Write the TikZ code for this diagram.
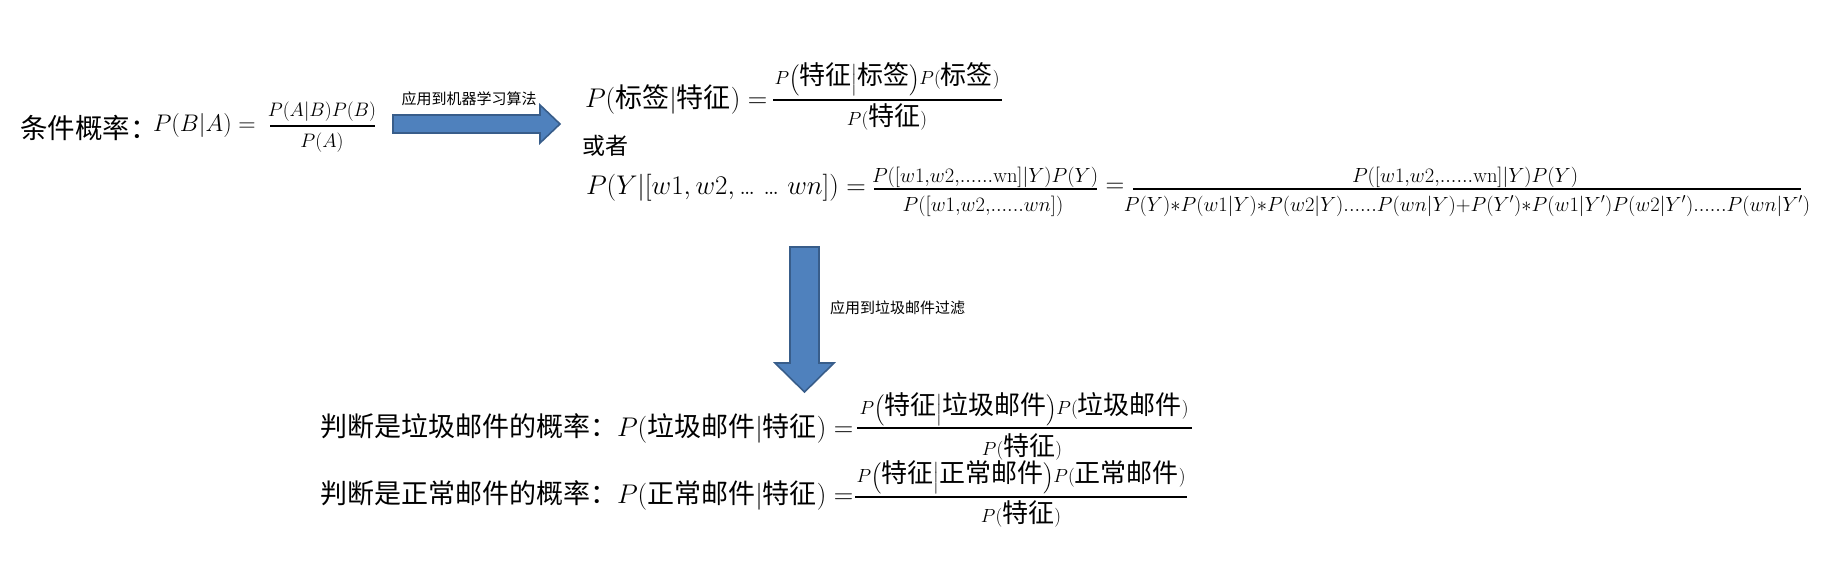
\RequirePackage{fix-cm}
\documentclass[tikz,border=0pt]{standalone}
\usepackage{amsmath}
\usepackage{fontspec}
\newfontfamily\cjk{Noto Sans CJK SC}
\newcommand\fs[1]{\fontsize{#1}{#1}\selectfont}
\newcommand\zh[1]{\text{\cjk #1}}
\newcommand\zhb[1]{\text{\fs{26}\cjk #1}}
\definecolor{arrowfill}{HTML}{4F81BD}
\definecolor{arrowedge}{HTML}{385D8A}
\begin{document}
\begin{tikzpicture}[x=1pt,y=-1pt,
  txt/.style={inner sep=0pt,outer sep=0pt},
  fracbar/.style={line width=1.4pt},
  blockarrow/.style={fill=arrowfill,draw=arrowedge,line width=1.6pt,line join=miter},
  lab/.style={txt,font=\cjk\fs{15}}]
\useasboundingbox (0,0) rectangle (1835,564);

% line 1
\node[txt,anchor=west,font=\cjk\fs{27.5}] (cond) at (20,128) {条件概率：};
\node[txt,anchor=west,font=\fs{24}] (bayes) at (153,126) {$P(B|A) =$};
\node[txt,font=\fs{19.5}] (bayesnum) at (322,112) {$P(A|B)P(B)$};
\node[txt,font=\fs{19.5}] (bayesden) at (322,143) {$P(A)$};
\draw[fracbar] (270,126) -- (375,126);

% right block arrow
\draw[blockarrow] (393,115) -- (540,115) -- (540,105) -- (560,124) -- (540,143) -- (540,133) -- (393,133) -- cycle;
\node[lab] (lab1) at (469,99) {应用到机器学习算法};

% block 2
\node[txt,anchor=west,font=\fs{27}] (post) at (585,99) {$P(\zh{标签}|\zh{特征}) =$};
\node[txt,font=\fs{19}] (postnum) at (887,80) {$P\Bigl(\zhb{特征}\Big|\zhb{标签}\Bigr)P(\zhb{标签})$};
\node[txt,font=\fs{19}] (postden) at (887,117) {$P(\zhb{特征})$};
\draw[fracbar] (773,100) -- (1002,100);

\node[txt,anchor=west,font=\cjk\fs{23}] (or) at (582,146) {或者};

% line 3
\node[txt,anchor=west,font=\fs{27}] (nb) at (586,188) {$P(Y|[w1,w2,\text{… … }wn]) =$};
\node[txt,font=\fs{20.5}] (nbnumA) at (985,177) {$P([w1{,}w2{,}......\mathrm{wn}]|Y)P(Y)$};
\node[txt,font=\fs{20.5}] (nbdenA) at (983,206) {$P([w1{,}w2{,}......wn])$};
\draw[fracbar] (874,189) -- (1097,189);
\node[txt,font=\fs{26}] (eq2) at (1115,188) {$=$};
\node[txt,font=\fs{20.5}] (nbnumB) at (1465,177) {$P([w1{,}w2{,}......\mathrm{wn}]|Y)P(Y)$};
\node[txt,font=\fs{20.5}] (nbdenB) at (1467,206) {$P(Y){*}P(w1|Y){*}P(w2|Y)......P(wn|Y){+}P(Y'){*}P(w1|Y')P(w2|Y')......P(wn|Y')$};
\draw[fracbar] (1133,189) -- (1801,189);

% down block arrow
\draw[blockarrow] (790,247) -- (819,247) -- (819,363) -- (834,363) -- (804.5,392) -- (775,363) -- (790,363) -- cycle;
\node[lab,anchor=west] (lab2) at (830,308) {应用到垃圾邮件过滤};

% bottom lines
\node[txt,anchor=west,font=\fs{27}] (spam) at (320,428) {{\cjk 判断是垃圾邮件的概率：}$P(\zh{垃圾邮件}|\zh{特征}) =$};
\node[txt,font=\fs{19}] (spamnum) at (1024,410) {$P\Bigl(\zhb{特征}\Big|\zhb{垃圾邮件}\Bigr)P(\zhb{垃圾邮件})$};
\node[txt,font=\fs{19}] (spamden) at (1022,447) {$P(\zhb{特征})$};
\draw[fracbar] (857,428) -- (1192,428);

\node[txt,anchor=west,font=\fs{27}] (ham) at (320,495) {{\cjk 判断是正常邮件的概率：}$P(\zh{正常邮件}|\zh{特征}) =$};
\node[txt,font=\fs{19}] (hamnum) at (1021,478) {$P\Bigl(\zhb{特征}\Big|\zhb{正常邮件}\Bigr)P(\zhb{正常邮件})$};
\node[txt,font=\fs{19}] (hamden) at (1021,514) {$P(\zhb{特征})$};
\draw[fracbar] (855,497) -- (1187,497);
\end{tikzpicture}
\end{document}
